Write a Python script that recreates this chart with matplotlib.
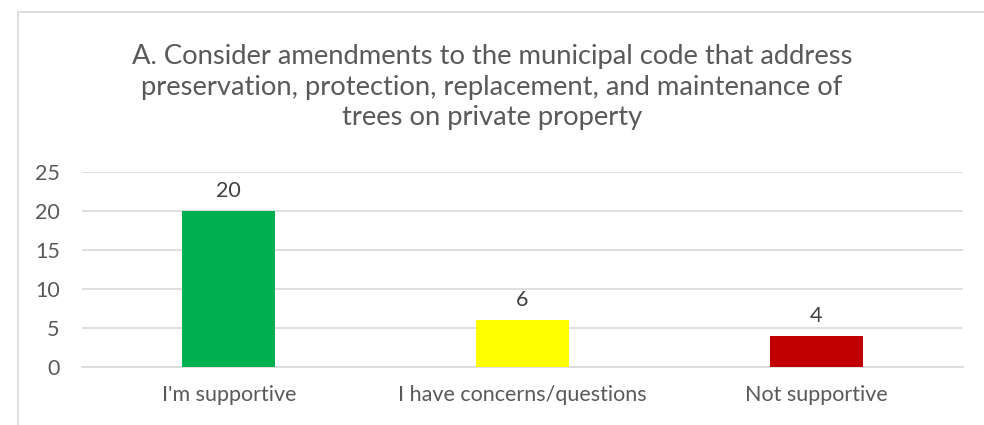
import matplotlib
matplotlib.use("Agg")
import matplotlib.pyplot as plt
from matplotlib.patches import Rectangle

categories = ["I'm supportive", "I have concerns/questions", "Not supportive"]
counts = [20, 6, 4]
bar_colors = ["#00B050", "#FFFF00", "#C00000"]
title = ("A. Consider amendments to the municipal code that address\n"
         "preservation, protection, replacement, and maintenance of\n"
         "trees on private property")

plt.rcParams["font.family"] = ["Lato", "DejaVu Sans"]

fig = plt.figure(figsize=(9.84, 4.25), dpi=100)
W, H = 984, 425

# chart border (Excel chart area)
fig.patches.append(Rectangle((18 / W, -0.1), 1.2, (H - 12) / H + 0.1,
                             transform=fig.transFigure, fill=False,
                             edgecolor="#D9D9D9", linewidth=1.2))

ax = fig.add_axes([82 / W, (H - 367) / H, (963 - 82) / W, (367 - 172) / H])
x = range(len(categories))
bars = ax.bar(x, counts, width=0.317, color=bar_colors, zorder=3)
for rect, v in zip(bars, counts):
    ax.annotate(str(v), (rect.get_x() + rect.get_width() / 2, v),
                xytext=(0, 7), textcoords="offset points",
                ha="center", va="bottom", fontsize=15.5, color="#404040")

ax.set_xlim(-0.5, 2.5)
ax.set_ylim(0, 25)
ax.set_yticks([0, 5, 10, 15, 20, 25])
ax.set_xticks(list(x))
ax.set_xticklabels(categories)
ax.tick_params(axis="both", length=0, labelsize=15.5, colors="#595959")
ax.tick_params(axis="x", pad=13)
ax.tick_params(axis="y", pad=16)
ax.yaxis.grid(True, color="#D9D9D9", linewidth=1.2, zorder=0)
for s in ["top", "right", "left"]:
    ax.spines[s].set_visible(False)
ax.spines["bottom"].set_color("#D9D9D9")
ax.spines["bottom"].set_linewidth(1.2)

fig.text(0.5, (H - 87) / H, title, ha="center", va="center",
         fontsize=19.7, color="#595959", linespacing=1.28)

fig.savefig("out.png", dpi=100)
